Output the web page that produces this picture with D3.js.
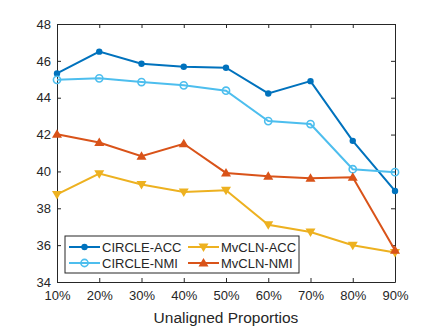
<!DOCTYPE html>
<html>
<head>
<meta charset="utf-8">
<script src="https://cdn.jsdelivr.net/npm/d3@7"></script>
<style>
  body { margin: 0; background: #fff; }
  text { font-family: "Liberation Sans", Arial, sans-serif; fill: #262626; }
</style>
</head>
<body>
<div id="chart"></div>
<script>
// data
var categories = ["10%", "20%", "30%", "40%", "50%", "60%", "70%", "80%", "90%"];
var circleAcc = [45.32, 46.5, 45.84, 45.68, 45.63, 44.23, 44.9, 41.66, 38.94];
var circleNmi = [44.97, 45.05, 44.85, 44.67, 44.38, 42.73, 42.57, 40.12, 39.96];
var mvclnAcc = [38.75, 39.88, 39.29, 38.89, 38.98, 37.11, 36.71, 35.99, 35.6];
var mvclnNmi = [42.02, 41.57, 40.83, 41.5, 39.92, 39.74, 39.63, 39.68, 35.72];
var yTicks = [34, 36, 38, 40, 42, 44, 46, 48];

var series = [
    { name: "CIRCLE-ACC", values: circleAcc, color: "#0072BD", marker: "dot" },
    { name: "CIRCLE-NMI", values: circleNmi, color: "#4DBEEE", marker: "circle" },
    { name: "MvCLN-ACC", values: mvclnAcc, color: "#EDB120", marker: "down" },
    { name: "MvCLN-NMI", values: mvclnNmi, color: "#D95319", marker: "up" }
];

// set the dimensions and margins of the graph
var margin = { top: 24, right: 41, bottom: 45, left: 57 },
    width = 436,
    height = 327;

var svg = d3.select("#chart")
    .append("svg")
    .attr("width", width)
    .attr("height", height);

var x = d3.scalePoint()
    .domain(categories)
    .range([margin.left, width - margin.right]);

var y = d3.scaleLinear()
    .domain([34, 48])
    .range([height - margin.bottom, margin.top]);

var axisColor = "#262626";

// box and ticks (MATLAB style, ticks inside)
var gx = svg.append("g")
    .attr("transform", "translate(0," + (height - margin.bottom) + ")")
    .call(d3.axisBottom(x).tickSizeInner(-4).tickSizeOuter(0).tickPadding(9));
var gxTop = svg.append("g")
    .attr("transform", "translate(0," + margin.top + ")")
    .call(d3.axisTop(x).tickSizeInner(-4).tickSizeOuter(0).tickFormat(""));
var gy = svg.append("g")
    .attr("transform", "translate(" + margin.left + ",0)")
    .call(d3.axisLeft(y).tickValues(yTicks).tickSizeInner(-4).tickSizeOuter(0).tickPadding(6));
var gyRight = svg.append("g")
    .attr("transform", "translate(" + (width - margin.right) + ",0)")
    .call(d3.axisRight(y).tickValues(yTicks).tickSizeInner(-4).tickSizeOuter(0).tickFormat(""));

[gx, gxTop, gy, gyRight].forEach(function (g) {
    g.selectAll("path").attr("stroke", axisColor).attr("stroke-width", 1);
    g.selectAll("line").attr("stroke", axisColor).attr("stroke-width", 1);
    g.selectAll("text").style("font-size", "13px").attr("fill", axisColor)
        .style("font-family", "'Liberation Sans', Arial, sans-serif");
});

// x label
svg.append("text")
    .attr("x", (margin.left + width - margin.right) / 2)
    .attr("y", 323)
    .attr("text-anchor", "middle")
    .style("font-size", "15.5px")
    .text("Unaligned Proportios");

var line = d3.line()
    .x(function (d, i) { return x(categories[i]); })
    .y(function (d) { return y(d); });

function drawMarker(g, type, color, cx, cy) {
    if (type === "dot") {
        g.append("circle").attr("cx", cx).attr("cy", cy).attr("r", 3.2).attr("fill", color);
    } else if (type === "circle") {
        g.append("circle").attr("cx", cx).attr("cy", cy).attr("r", 3.6)
            .attr("fill", "none").attr("stroke", color).attr("stroke-width", 1.6);
    } else if (type === "down") {
        g.append("path")
            .attr("d", "M" + (cx - 5) + "," + (cy - 3.5) + "L" + (cx + 5) + "," + (cy - 3.5) + "L" + cx + "," + (cy + 5) + "Z")
            .attr("fill", color);
    } else {
        g.append("path")
            .attr("d", "M" + (cx - 5) + "," + (cy + 3.5) + "L" + (cx + 5) + "," + (cy + 3.5) + "L" + cx + "," + (cy - 5) + "Z")
            .attr("fill", color);
    }
}

series.forEach(function (s) {
    var g = svg.append("g");
    g.append("path")
        .datum(s.values)
        .attr("fill", "none")
        .attr("stroke", s.color)
        .attr("stroke-width", 2)
        .attr("d", line);
    s.values.forEach(function (v, i) {
        drawMarker(g, s.marker, s.color, x(categories[i]), y(v));
    });
});

// legend
var legend = svg.append("g").attr("transform", "translate(65,236)");
legend.append("rect")
    .attr("width", 234).attr("height", 37)
    .attr("fill", "#fff").attr("stroke", axisColor).attr("stroke-width", 1);

series.forEach(function (s, i) {
    var col = Math.floor(i / 2), row = i % 2;
    var lx = 4 + col * 119, ly = 11 + row * 16;
    var g = legend.append("g");
    g.append("line")
        .attr("x1", lx).attr("x2", lx + 31)
        .attr("y1", ly).attr("y2", ly)
        .attr("stroke", s.color).attr("stroke-width", 2);
    drawMarker(g, s.marker, s.color, lx + 15.5, ly);
    g.append("text")
        .attr("x", lx + 33)
        .attr("y", ly + 4.5)
        .style("font-size", "13px")
        .text(s.name);
});
</script>
</body>
</html>
